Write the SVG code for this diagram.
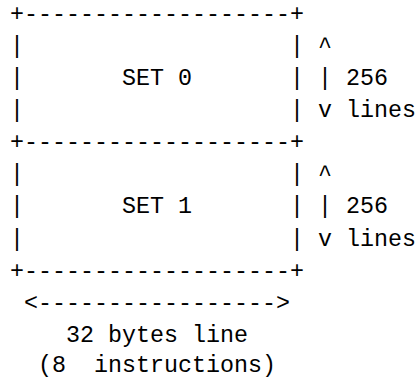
<svg xmlns="http://www.w3.org/2000/svg" width="417" height="379" viewBox="0 0 417 379">
  <style>
    /* monospace grid: 14px per column, 32.1px per row */
    .tt { font-family: "Liberation Mono", "DejaVu Sans Mono", monospace; font-size: 23.333px; fill: #000; }
  </style>
  <rect width="417" height="379" fill="#fff"/>

  <!-- cache set 0 -->
  <g id="set0" class="tt">
    <text x="10" y="20.8">+-------------------+</text>
    <text x="10" y="52.9">|</text><text x="290" y="52.9">|</text>
    <text x="10" y="85">|</text><text x="122" y="85">SET</text><text x="178" y="85">0</text><text x="290" y="85">|</text>
    <text x="10" y="117.1">|</text><text x="290" y="117.1">|</text>
  </g>

  <!-- cache set 1 -->
  <g id="set1" class="tt">
    <text x="10" y="149.2">+-------------------+</text>
    <text x="10" y="181.3">|</text><text x="290" y="181.3">|</text>
    <text x="10" y="213.4">|</text><text x="122" y="213.4">SET</text><text x="178" y="213.4">1</text><text x="290" y="213.4">|</text>
    <text x="10" y="245.5">|</text><text x="290" y="245.5">|</text>
    <text x="10" y="277.6">+-------------------+</text>
  </g>

  <!-- dimension arrows -->
  <g id="connectors" class="tt">
    <text x="318" y="52.9">^</text>
    <text x="318" y="85">|</text>
    <text x="318" y="117.1">v</text>
    <text x="318" y="181.3">^</text>
    <text x="318" y="213.4">|</text>
    <text x="318" y="245.5">v</text>
    <text x="24" y="309.7">&lt;-----------------&gt;</text>
  </g>

  <!-- dimension labels -->
  <g id="set0-height" class="tt">
    <text x="346" y="85">256</text>
    <text x="346" y="117.1">lines</text>
  </g>
  <g id="set1-height" class="tt">
    <text x="346" y="213.4">256</text>
    <text x="346" y="245.5">lines</text>
  </g>
  <g id="line-width" class="tt">
    <text x="66" y="341.8">32</text><text x="108" y="341.8">bytes</text><text x="192" y="341.8">line</text>
    <text x="38" y="372">(8</text><text x="94" y="372">instructions)</text>
  </g>
</svg>
